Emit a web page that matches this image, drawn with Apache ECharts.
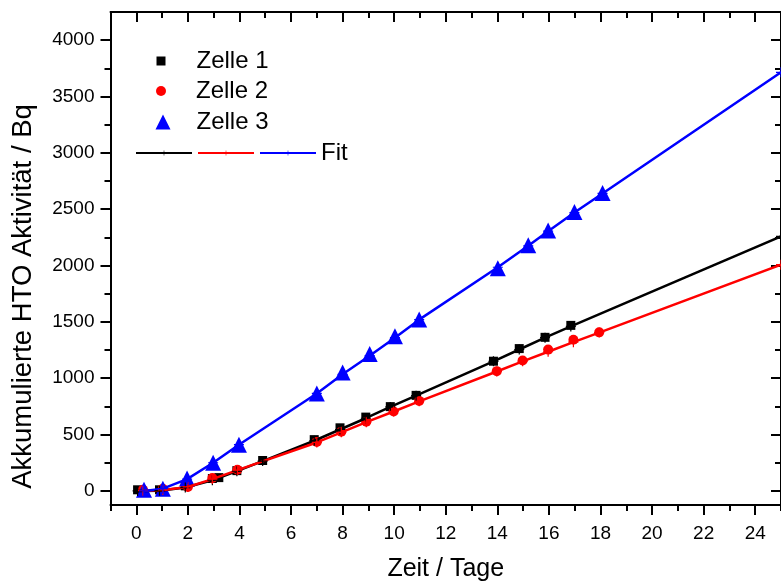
<!DOCTYPE html>
<html>
<head>
<meta charset="utf-8">
<script src="https://cdn.jsdelivr.net/npm/echarts@6/dist/echarts.min.js"></script>
<style>html,body{margin:0;padding:0;background:#fff}#c{width:781px;height:587px}</style>
</head>
<body>
<div id="c"></div>
<script>
// ---- data ----
const z1X = [0.05, 0.9, 1.9, 2.95, 3.2, 3.9, 4.9, 6.9, 7.9, 8.9, 9.85, 10.85, 13.85, 14.85, 15.85, 16.85];
const z1Y = [10, 10, 45, 110, 118, 180, 270, 455, 560, 655, 748, 848, 1151, 1263, 1363, 1469];
const z2X = [0.26, 1.03, 2.0, 2.95, 3.92, 7.0, 7.95, 8.92, 9.98, 10.97, 13.98, 14.98, 15.97, 16.95, 17.95];
const z2Y = [11, 20, 35, 115, 188, 435, 526, 614, 705, 799, 1063, 1157, 1254, 1342, 1407];
const z3X = [0.3, 1.03, 1.97, 2.98, 3.98, 7.0, 8.0, 9.05, 10.03, 10.97, 14.02, 15.2, 15.97, 16.99, 18.08];
const z3Y = [10, 20, 110, 250, 410, 865, 1050, 1215, 1372, 1522, 1975, 2180, 2312, 2475, 2643];

const fit1X = [0.05, 0.9, 1.9, 2.95, 3.9, 4.9, 6.9, 7.9, 8.9, 9.85, 10.85, 13.85, 14.85, 15.85, 16.85, 25];
const fit1Y = [0, 2, 30, 95, 175, 265, 445, 545, 645, 745, 845, 1150, 1255, 1360, 1460, 2258];
const fit2X = [0.26, 1.03, 2.0, 2.95, 3.92, 7.0, 7.95, 8.92, 9.98, 10.97, 13.98, 14.98, 15.97, 16.95, 17.95, 25];
const fit2Y = [2, 8, 35, 105, 185, 430, 520, 610, 705, 795, 1060, 1150, 1235, 1320, 1405, 2008];
const fit3X = [0.3, 1.03, 1.97, 2.98, 3.98, 7.0, 8.0, 9.05, 10.03, 10.97, 14.02, 15.2, 15.97, 16.99, 18.08, 25];
const fit3Y = [0, 20, 105, 250, 410, 865, 1035, 1200, 1360, 1520, 1985, 2175, 2305, 2470, 2640, 3715];

const xTicks = [0, 2, 4, 6, 8, 10, 12, 14, 16, 18, 20, 22, 24];
const yTicks = [0, 500, 1000, 1500, 2000, 2500, 3000, 3500, 4000];
const yMinorTicks = [250, 750, 1250, 1750, 2250, 2750, 3250, 3750];

const zip = (a, b) => a.map((v, i) => [v, b[i]]);
const FONT = '"Liberation Sans", Arial, sans-serif';
const plus = 'path://M4.4,0H5.6V4.4H10V5.6H5.6V10H4.4V5.6H0V4.4H4.4Z';

const chart = echarts.init(document.getElementById('c'), null, {renderer: 'canvas'});
const lineStyle = {color: '#000', width: 2};
const xBase = {type: 'value', min: -1, max: 25, splitLine: {show: false}};
const yBase = {type: 'value', min: -125, max: 4250, splitLine: {show: false}};
const legText = pad => ({fontSize: 24, color: '#000', fontFamily: FONT, padding: [0, 0, 0, pad]});

chart.setOption({
  animation: false,
  backgroundColor: '#fff',
  grid: {left: 110.5, right: -5.5, top: 12, bottom: 79.5, containLabel: false},
  xAxis: [
    Object.assign({}, xBase, {
      position: 'bottom',
      axisLine: {show: true, onZero: false, lineStyle},
      axisTick: {show: true, inside: false, length: 10, lineStyle, customValues: xTicks},
      axisLabel: {show: true, customValues: xTicks, margin: 19, fontSize: 19, color: '#000', fontFamily: FONT,
                  formatter: v => String(v)},
      name: 'Zeit / Tage', nameLocation: 'middle', nameGap: 52,
      nameTextStyle: {fontSize: 25, color: '#000', fontFamily: FONT}
    }),
    Object.assign({}, xBase, {
      position: 'bottom', interval: 1,
      axisLine: {show: false, onZero: false},
      axisTick: {show: true, inside: false, length: 6, lineStyle},
      axisLabel: {show: false}
    }),
    Object.assign({}, xBase, {
      position: 'top',
      axisLine: {show: true, onZero: false, lineStyle},
      axisTick: {show: true, inside: true, length: 10, lineStyle, customValues: xTicks},
      axisLabel: {show: false}
    }),
    Object.assign({}, xBase, {
      position: 'top', interval: 1,
      axisLine: {show: false, onZero: false},
      axisTick: {show: true, inside: true, length: 6, lineStyle},
      axisLabel: {show: false}
    })
  ],
  yAxis: [
    Object.assign({}, yBase, {
      position: 'left',
      axisLine: {show: true, onZero: false, lineStyle},
      axisTick: {show: true, inside: false, length: 10, lineStyle, customValues: yTicks},
      axisLabel: {show: true, customValues: yTicks, margin: 16, fontSize: 19, color: '#000', fontFamily: FONT,
                  formatter: v => String(v)},
      name: 'Akkumulierte HTO Aktivität / Bq', nameLocation: 'middle', nameGap: 73,
      nameTextStyle: {fontSize: 27.5, color: '#000', fontFamily: FONT, padding: [0, 76, 0, 0]}
    }),
    Object.assign({}, yBase, {
      position: 'left',
      axisLine: {show: false, onZero: false},
      axisTick: {show: true, inside: false, length: 6, lineStyle, customValues: yMinorTicks},
      axisLabel: {show: false}
    }),
    Object.assign({}, yBase, {
      position: 'right',
      axisLine: {show: true, onZero: false, lineStyle},
      axisTick: {show: true, inside: true, length: 10, lineStyle, customValues: yTicks},
      axisLabel: {show: false}
    }),
    Object.assign({}, yBase, {
      position: 'right',
      axisLine: {show: false, onZero: false},
      axisTick: {show: true, inside: true, length: 6, lineStyle, customValues: yMinorTicks},
      axisLabel: {show: false}
    })
  ],
  legend: [
    {data: ['Zelle 1'], left: 156.5, top: 49, padding: 0, itemWidth: 9, itemHeight: 9, selectedMode: false,
     textStyle: legText(26)},
    {data: ['Zelle 2'], left: 156, top: 79, padding: 0, itemWidth: 10, itemHeight: 10, selectedMode: false,
     textStyle: legText(25)},
    {data: ['Zelle 3'], left: 155.5, top: 110, padding: 0, itemWidth: 15, itemHeight: 15, selectedMode: false,
     textStyle: legText(21)},
    {data: ['Fit 1', 'Fit 2', 'Fit'], left: 135, top: 141, padding: 0, itemWidth: 56, itemHeight: 6, itemGap: 4,
     selectedMode: false, formatter: n => (n === 'Fit' ? 'Fit' : ''),
     textStyle: {fontSize: 24, color: '#000', fontFamily: FONT}}
  ],
  series: [
    {name: 'Zelle 1', type: 'scatter', symbol: 'rect', symbolSize: 9, itemStyle: {color: '#000', opacity: 1}, data: zip(z1X, z1Y), z: 2},
    {name: 'Zelle 2', type: 'scatter', symbol: 'circle', symbolSize: 10, itemStyle: {color: '#ff0000', opacity: 1}, data: zip(z2X, z2Y), z: 2},
    {name: 'Zelle 3', type: 'scatter', symbol: 'triangle', symbolSize: 16, itemStyle: {color: '#0000ff', opacity: 1}, data: zip(z3X, z3Y), z: 2},
    {name: 'Fit 1', type: 'line', symbol: plus, symbolSize: 10, showSymbol: true, lineStyle: {color: '#000', width: 2.5},
     itemStyle: {color: '#000'}, data: zip(fit1X, fit1Y), z: 3},
    {name: 'Fit 2', type: 'line', symbol: plus, symbolSize: 10, showSymbol: true, lineStyle: {color: '#ff0000', width: 2.5},
     itemStyle: {color: '#ff0000'}, data: zip(fit2X, fit2Y), z: 3},
    {name: 'Fit', type: 'line', symbol: plus, symbolSize: 10, showSymbol: true, lineStyle: {color: '#0000ff', width: 2.5},
     itemStyle: {color: '#0000ff'}, data: zip(fit3X, fit3Y), z: 3}
  ]
});
</script>
</body>
</html>
